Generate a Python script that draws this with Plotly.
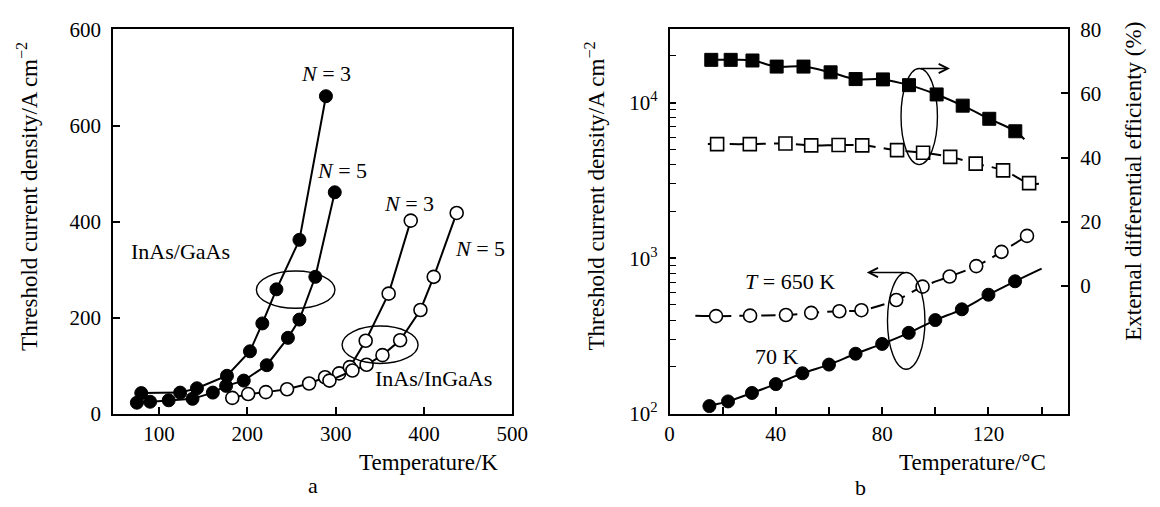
import plotly.graph_objects as go

# ---------------- data: panel a ----------------
gaas3_T = [80, 124, 143, 177, 203, 217, 233, 259, 289]
gaas3_J = [43, 44, 53, 79, 130, 188, 259, 362, 661]
gaas5_T = [75, 90, 111, 138, 161, 176, 196, 222, 246, 259, 277, 299]
gaas5_J = [23, 25, 28, 31, 44, 58, 69, 101, 158, 196, 285, 461]
ingaas3_T = [183, 201, 221, 245, 270, 288, 304, 316, 334, 360, 385]
ingaas3_J = [33, 41, 45, 51, 63, 76, 84, 97, 152, 250, 402]
ingaas5_T = [293, 319, 335, 353, 373, 396, 411, 437]
ingaas5_J = [69, 90, 102, 122, 153, 216, 285, 418]
a_yticks = [0, 200, 400, 600, 800]
a_yticktext = ["0", "200", "400", "600", "600"]
a_xticks = [100, 200, 300, 400, 500]

# ---------------- data: panel b ----------------
j70_T = [15, 22, 31, 40, 50, 60, 70, 80, 90, 100, 110, 120, 130]
j70_J = [112, 120, 136, 155, 182, 207, 243, 281, 331, 400, 469, 582, 710]
j70_fit_T = [14, 140]
j70_fit_J = [109, 857]
j650_T = [17.5, 30.3, 43.8, 53.3, 63.9, 72.2, 85.3, 95.2, 105.4, 115.4, 124.9, 134.5]
j650_J = [424, 427, 431, 445, 456, 463, 538, 656, 762, 889, 1098, 1390]
j650_start_T = [9.7]
j650_start_J = [427]
eff70_T = [15.7, 23.0, 31.2, 40.3, 50.4, 60.6, 70.0, 80.3, 90.1, 100.5, 110.3, 120.3, 130.1]
eff70 = [70.5, 70.5, 70.3, 68.4, 68.4, 66.6, 64.5, 64.4, 62.6, 59.7, 56.2, 52.1, 48.2]
eff70_end_T = [133.5]
eff70_end = [45.7]
eff650_T = [17.9, 30.2, 43.6, 53.3, 63.6, 72.5, 85.6, 95.4, 105.6, 115.2, 125.5, 135.3]
eff650 = [44.2, 44.2, 44.4, 43.8, 43.9, 43.8, 42.3, 41.5, 40.2, 38.1, 36.0, 32.0]
eff650_start_T = [14.4]
eff650_start = [44.2]
eff650_end_T = [139]
eff650_end = [31.8]
b_xticks = [0, 20, 40, 60, 80, 100, 120, 140]
b_xticktext = ["0", " ", "40", " ", "80", " ", "120", " "]
b_ymajor = [100, 1000, 10000]
b_ymajor_text = ["10<sup>2</sup>", "10<sup>3</sup>", "10<sup>4</sup>"]
b_yminor = [m * d for d in (100, 1000, 10000) for m in range(2, 10) if m * d < 30000]
b_y2ticks = [0, 20, 40, 60, 80]

FONT = "Liberation Serif, Times New Roman, serif"
BLACK = "#000000"
TICKF = 21
TITLEF = 23
TXTF = 22

fig = go.Figure()

def filled(x, y, xa, ya, name):
    fig.add_trace(go.Scatter(x=x, y=y, xaxis=xa, yaxis=ya, mode="lines+markers", name=name,
                             line=dict(color=BLACK, width=2),
                             marker=dict(symbol="circle", size=13, color=BLACK,
                                         line=dict(color=BLACK, width=1))))

def opened(x, y, xa, ya, name):
    fig.add_trace(go.Scatter(x=x, y=y, xaxis=xa, yaxis=ya, mode="lines+markers", name=name,
                             line=dict(color=BLACK, width=2),
                             marker=dict(symbol="circle", size=13, color="white",
                                         line=dict(color=BLACK, width=1.6))))

# panel a
filled(gaas3_T, gaas3_J, "x", "y", "InAs/GaAs N=3")
filled(gaas5_T, gaas5_J, "x", "y", "InAs/GaAs N=5")
opened(ingaas3_T, ingaas3_J, "x", "y", "InAs/InGaAs N=3")
opened(ingaas5_T, ingaas5_J, "x", "y", "InAs/InGaAs N=5")

# panel b lines
fig.add_trace(go.Scatter(x=[j70_fit_T[0]] + j70_T + [j70_fit_T[1]],
                         y=[j70_fit_J[0]] + j70_J + [j70_fit_J[1]],
                         xaxis="x2", yaxis="y2", mode="lines",
                         line=dict(color=BLACK, width=2, shape="spline", smoothing=1)))
fig.add_trace(go.Scatter(x=j650_start_T + j650_T, y=j650_start_J + j650_J,
                         xaxis="x2", yaxis="y2", mode="lines",
                         line=dict(color=BLACK, width=2, dash="14px,8px", shape="spline", smoothing=1)))
fig.add_trace(go.Scatter(x=eff70_T + eff70_end_T, y=eff70 + eff70_end,
                         xaxis="x2", yaxis="y3", mode="lines",
                         line=dict(color=BLACK, width=2, shape="spline", smoothing=1)))
fig.add_trace(go.Scatter(x=eff650_start_T + eff650_T + eff650_end_T,
                         y=eff650_start + eff650 + eff650_end,
                         xaxis="x2", yaxis="y3", mode="lines",
                         line=dict(color=BLACK, width=2, dash="14px,8px", shape="spline", smoothing=1)))
# panel b markers
fig.add_trace(go.Scatter(x=j70_T, y=j70_J, xaxis="x2", yaxis="y2", mode="markers",
                         marker=dict(symbol="circle", size=13, color=BLACK, line=dict(color=BLACK, width=1))))
fig.add_trace(go.Scatter(x=j650_T, y=j650_J, xaxis="x2", yaxis="y2", mode="markers",
                         marker=dict(symbol="circle", size=13, color="white", line=dict(color=BLACK, width=1.6))))
fig.add_trace(go.Scatter(x=eff70_T, y=eff70, xaxis="x2", yaxis="y3", mode="markers",
                         marker=dict(symbol="square", size=13, color=BLACK, line=dict(color=BLACK, width=1))))
fig.add_trace(go.Scatter(x=eff650_T, y=eff650, xaxis="x2", yaxis="y3", mode="markers",
                         marker=dict(symbol="square", size=13, color="white", line=dict(color=BLACK, width=1.6))))

H = 507.0
W = 1160.0
ybot = 1 - 421.7 / H
ytop = 1 - 18.3 / H

axis_common = dict(showline=True, linecolor=BLACK, linewidth=1.5, ticks="inside",
                   tickcolor=BLACK, tickwidth=1.5, ticklen=7, showgrid=False, zeroline=False,
                   tickfont=dict(family=FONT, size=TICKF, color=BLACK))

fig.update_layout(
    width=1160, height=507, margin=dict(l=0, r=0, t=0, b=0),
    paper_bgcolor="white", plot_bgcolor="white", showlegend=False,
    font=dict(family=FONT, color=BLACK),
    xaxis=dict(domain=[110 / W, 516.7 / W], range=[48, 500], tickmode="array",
               tickvals=a_xticks, mirror=True, anchor="y", ticklabelstandoff=0, **axis_common),
    yaxis=dict(domain=[ybot, ytop], range=[0, 800], tickmode="array", tickvals=a_yticks,
               ticktext=a_yticktext, mirror=True, anchor="x", ticklabelstandoff=6, **axis_common),
    xaxis2=dict(domain=[676.8 / W, 1082.8 / W], range=[0, 150], tickmode="array",
                tickvals=b_xticks, ticktext=b_xticktext, mirror=True, anchor="y2",
                ticklabelstandoff=0, **axis_common),
    yaxis2=dict(domain=[ybot, ytop], type="log", range=[2, 4.47], tickmode="array",
                tickvals=b_ymajor, ticktext=b_ymajor_text, anchor="x2", ticklabelstandoff=6,
                minor=dict(tickmode="array", tickvals=b_yminor, ticks="inside", ticklen=7,
                           tickcolor=BLACK, tickwidth=1.2, showgrid=False),
                **axis_common),
    yaxis3=dict(domain=[ybot, ytop], range=[-40, 80], tickmode="array", tickvals=b_y2ticks,
                overlaying="y2", side="right", anchor="x2", ticklabelstandoff=6, **axis_common),
)

# ellipses
ell = dict(type="circle", line=dict(color=BLACK, width=1.4), fillcolor="rgba(0,0,0,0)")
fig.add_shape(xref="x", yref="y", x0=210.3, x1=299.2, y0=219.6, y1=297, **ell)
fig.add_shape(xref="x", yref="y", x0=307.3, x1=393.3, y0=104.7, y1=182.6, **ell)
fig.add_shape(xref="x2", yref="y3", x0=87.1, x1=100.8, y0=37.8, y1=67.8, **ell)
fig.add_shape(xref="x2", yref="y3", x0=82.0, x1=96.1, y0=-26.1, y1=4.1, **ell)

# arrows
fig.add_annotation(xref="x2", yref="y3", axref="x2", ayref="y3", x=105.5, y=67.8, ax=94.0, ay=67.8,
                   text="", showarrow=True, arrowhead=5, arrowsize=1.3, arrowwidth=1.4, arrowcolor=BLACK)
fig.add_annotation(xref="x2", yref="y3", axref="x2", ayref="y3", x=74.2, y=4.1, ax=88.8, ay=4.1,
                   text="", showarrow=True, arrowhead=5, arrowsize=1.3, arrowwidth=1.4, arrowcolor=BLACK)

def txt(x, y, s, xref, yref, size=TXTF, angle=0, xanchor="center"):
    fig.add_annotation(x=x, y=y, xref=xref, yref=yref, text=s, showarrow=False,
                       textangle=angle, xanchor=xanchor, yanchor="middle",
                       font=dict(family=FONT, size=size, color=BLACK))

# panel a labels
txt(288.9, 708, "<i>N</i> = 3", "x", "y")
txt(307.3, 506, "<i>N</i> = 5", "x", "y")
txt(382.9, 437, "<i>N</i> = 3", "x", "y")
txt(462.9, 345, "<i>N</i> = 5", "x", "y")
txt(124.6, 337, "InAs/GaAs", "x", "y")
txt(410.3, 72.5, "InAs/InGaAs", "x", "y")
# panel b labels
txt(45.4, 1.2, "<i>T</i> = 650 K", "x2", "y3")
txt(40.4, -22.2, "70 K", "x2", "y3")

# axis titles
txt(23 / W, 1 - 193.5 / H, "Threshold current density/A cm<sup>−2</sup>", "paper", "paper", TITLEF, -90)
txt(601 / W, 1 - 193.5 / H, "Threshold current density/A cm<sup>−2</sup>", "paper", "paper", TITLEF, -90)
txt(1149 / W, 1 - 178 / H, "External differential efficienty (%)", "paper", "paper", TITLEF, -90)
txt(431.7 / W, 1 - 473 / H, "Temperature/K", "paper", "paper", TITLEF)
txt(985.7 / W, 1 - 473 / H, "Temperature/°C", "paper", "paper", TITLEF)
txt(313.3 / W, 1 - 497.5 / H, "a", "paper", "paper", TXTF)
txt(871 / W, 1 - 499 / H, "b", "paper", "paper", TXTF)

fig.write_html("out.html")
